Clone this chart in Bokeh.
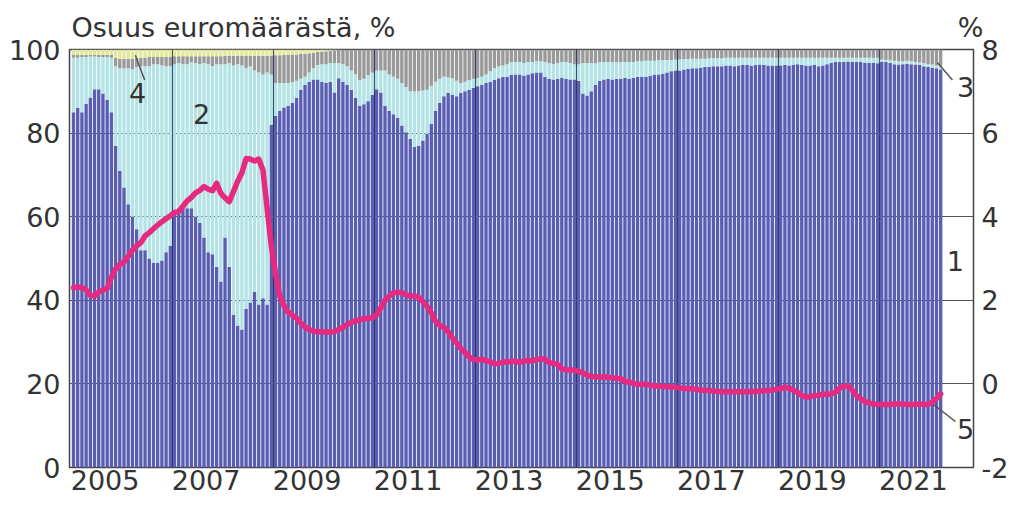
from bokeh.plotting import figure
from bokeh.models import Range1d, LinearAxis, FixedTicker, Label, ColumnDataSource
from bokeh.embed import file_html
from bokeh.resources import INLINE

# ---------------- data (monthly, Jan 2005 - Mar 2022) ----------------
start_year = 2005

# 1: share, %  (dark blue)
s1 = [85, 86, 85, 87, 88.5, 90.5, 90.5, 89.5, 88, 85, 77, 71,
      67, 63, 60, 57, 52, 52, 50, 49, 49, 49.5, 51.5, 53,
      61, 62, 62, 62, 62, 60, 58.5, 55, 51.5, 51, 48, 44.5,
      55, 48, 36.5, 34, 33, 38, 39.5, 42, 39, 40.5, 39, 82,
      84.1, 85.3, 86.1, 86.5, 87.2, 88.4, 90.4, 91.5, 92.3, 92.8, 92.8, 92.3,
      92, 92.3, 89.7, 93.1, 92.3, 91.5, 90.4, 88.4, 86.5, 86.9, 87.6, 89.2,
      90.5, 89.7, 86.5, 85.3, 84.5, 83.7, 81.8, 80.2, 78.6, 76.7, 77, 78.2,
      79.8, 82.2, 85.3, 87.2, 88.8, 89.6, 89.2, 88.8, 89.6, 90, 90.4, 90.8,
      91.2, 91.5, 92, 92.3, 92.7, 93.1, 93.5, 93.5, 93.9, 94, 94, 93.8,
      94, 94.3, 94.5, 94.5, 93.5, 93, 92.8, 93, 93.2, 93, 92.8, 92.8,
      92.5, 89.5, 89, 90, 91.5, 92.5, 92.8, 93, 92.8, 93, 93, 93.2,
      93, 93.2, 93.4, 93.5, 93.5, 93.7, 94, 94, 94.2, 94.5, 94.8, 95,
      95, 95.2, 95.4, 95.5, 95.5, 95.6, 95.8, 95.8, 96, 96, 96, 96.2,
      96.2, 96, 96.2, 96.3, 96.3, 96.2, 96.3, 96.4, 96.3, 96.2, 96.2, 96.2,
      96.2, 96.3, 96.2, 96.3, 96.5, 96.3, 96.2, 96.2, 96.3, 96, 96.2, 96.5,
      96.8, 97, 97, 97, 97.1, 97, 97, 97, 96.8, 96.8, 96.8, 96.7,
      97, 97, 96.8, 96.5, 96.4, 96.5, 96.6, 96.5, 96.4, 96.3, 96, 95.8,
      95.6, 95.5, 95.2]

# 2: share, %  (light cyan)
s2 = [13, 12, 13.2, 11.2, 9.8, 7.8, 7.7, 8.7, 10.2, 13, 19, 24.5,
      28.5, 32.5, 35.3, 38.8, 44, 44, 46, 47.5, 47.5, 46.7, 44.5, 43,
      35.5, 34.8, 34.5, 34.5, 35, 36.8, 38, 41.8, 45, 45, 48.5, 52,
      41.5, 48.7, 59.7, 62.5, 63.2, 57.5, 56.5, 53, 55.5, 53.5, 55.5, 12,
      7.9, 6.7, 5.9, 5.5, 5, 4.1, 2.6, 2, 2.2, 2.7, 3.5, 4.2,
      4.5, 4.5, 7.1, 3.7, 4.2, 4.5, 4.6, 5.6, 6.2, 6.1, 6.3, 5.3,
      4.5, 5.3, 8.5, 8.7, 9, 9.3, 10.2, 10.8, 11.4, 13.3, 13, 12,
      10.6, 9.1, 7, 5.8, 4.7, 3.7, 3.9, 3.7, 2.4, 2.3, 2.3, 2.2,
      1.9, 2, 2, 2.5, 2.8, 2.9, 2.7, 3, 3.1, 3, 3, 3,
      3, 2.7, 2.7, 2.7, 3.5, 3.8, 3.7, 3.8, 3.8, 4, 4, 3.7,
      4, 7.2, 7.8, 6.8, 5.3, 4.5, 4.2, 4, 4.2, 4, 4, 3.8,
      4, 3.8, 3.8, 3.7, 3.8, 3.6, 3.3, 3.4, 3.3, 3, 2.7, 2.6,
      2.6, 2.5, 2.3, 2.3, 2.3, 2.2, 2, 2.1, 1.9, 1.9, 1.9, 1.8,
      1.8, 2, 1.8, 1.7, 1.7, 1.8, 1.7, 1.6, 1.7, 1.8, 1.8, 1.8,
      1.8, 1.7, 1.8, 1.7, 1.5, 1.7, 1.8, 1.8, 1.7, 2, 1.8, 1.5,
      1.2, 1, 1, 1, 0.9, 1, 1, 1, 1.2, 1.2, 1.2, 1.3,
      0.6, 0.5, 0.7, 0.8, 0.8, 0.7, 0.7, 0.7, 0.6, 0.6, 0.7, 0.7,
      0.8, 0.7, 0.8]

# 3: share, %  (grey)
s3 = [0.7, 0.7, 0.5, 0.5, 0.4, 0.4, 0.5, 0.5, 0.5, 0.7, 2, 2.3,
      2.3, 2.3, 2.5, 2.2, 2, 2, 2.2, 1.7, 1.7, 2, 2.2, 2.2,
      1.9, 1.6, 1.9, 1.9, 1.4, 1.6, 1.9, 1.6, 1.9, 2.4, 1.9, 1.9,
      2, 1.8, 2.3, 2, 2.3, 3, 2.5, 3.5, 4, 4.5, 4, 4.5,
      6.6, 6.6, 6.7, 6.7, 6.6, 6.3, 5.9, 5.5, 4.6, 3.7, 3.1, 3,
      3.1, 2.9, 3, 3.1, 3.5, 4, 5, 6, 7.3, 7, 6.1, 5.5,
      5, 5, 5, 6, 6.5, 7, 8, 9, 10, 10, 10, 9.8,
      9.6, 8.7, 7.7, 7, 6.5, 6.7, 6.9, 7.5, 8, 7.7, 7.3, 7,
      6.9, 6.5, 6, 5.2, 4.5, 4, 3.8, 3.5, 3, 3, 3, 3.2,
      3, 3, 2.8, 2.8, 3, 3.2, 3.5, 3.2, 3, 3, 3.2, 3.5,
      3.5, 3.3, 3.2, 3.2, 3.2, 3, 3, 3, 3, 3, 3, 3,
      3, 3, 2.8, 2.8, 2.7, 2.7, 2.7, 2.6, 2.5, 2.5, 2.5, 2.4,
      2.4, 2.3, 2.3, 2.2, 2.2, 2.2, 2.2, 2.1, 2.1, 2.1, 2.1, 2,
      2, 2, 2, 2, 2, 2, 2, 2, 2, 2, 2, 2,
      2, 2, 2, 2, 2, 2, 2, 2, 2, 2, 2, 2,
      2, 2, 2, 2, 2, 2, 2, 2, 2, 2, 2, 2,
      2.4, 2.5, 2.5, 2.7, 2.8, 2.8, 2.7, 2.8, 3, 3.1, 3.3, 3.5,
      3.6, 3.8, 4]

# 4: share, %  (yellow)
s4 = [1.3, 1.3, 1.3, 1.3, 1.3, 1.3, 1.3, 1.3, 1.3, 1.3, 2, 2.2,
      2.2, 2.2, 2.2, 2, 2, 2, 1.8, 1.8, 1.8, 1.8, 1.8, 1.8,
      1.6, 1.6, 1.6, 1.6, 1.6, 1.6, 1.6, 1.6, 1.6, 1.6, 1.6, 1.6,
      1.5, 1.5, 1.5, 1.5, 1.5, 1.5, 1.5, 1.5, 1.5, 1.5, 1.5, 1.5,
      1.4, 1.4, 1.3, 1.3, 1.2, 1.2, 1.1, 1, 0.9, 0.8, 0.6, 0.5,
      0.4, 0.3, 0.2, 0.1, 0, 0, 0, 0, 0, 0, 0, 0] + [0] * 135

# 5: interest rate, % (right axis)
s5 = [2.30, 2.32, 2.30, 2.25, 2.12, 2.10, 2.20, 2.25, 2.28, 2.55, 2.75, 2.86,
      2.92, 3.05, 3.20, 3.30, 3.38, 3.54, 3.62, 3.71, 3.80, 3.88, 3.95, 4.02,
      4.10, 4.12, 4.25, 4.38, 4.46, 4.57, 4.63, 4.72, 4.66, 4.62, 4.80, 4.56,
      4.45, 4.36, 4.60, 4.85, 5.05, 5.39, 5.38, 5.33, 5.38, 5.12, 4.20, 3.30,
      2.65, 2.10, 1.87, 1.72, 1.64, 1.57, 1.45, 1.36, 1.30, 1.26, 1.25, 1.25,
      1.24, 1.24, 1.25, 1.30, 1.35, 1.42, 1.47, 1.51, 1.53, 1.56, 1.57, 1.58,
      1.65, 1.82, 2.00, 2.10, 2.18, 2.19, 2.18, 2.13, 2.10, 2.11, 2.07, 1.97,
      1.85, 1.70, 1.50, 1.40, 1.35, 1.25, 1.10, 0.98, 0.85, 0.75, 0.65, 0.58,
      0.58, 0.59, 0.55, 0.53, 0.48, 0.49, 0.52, 0.53, 0.54, 0.54, 0.51, 0.55,
      0.56, 0.55, 0.58, 0.60, 0.59, 0.51, 0.49, 0.47, 0.36, 0.34, 0.33, 0.33,
      0.30, 0.26, 0.21, 0.18, 0.17, 0.16, 0.17, 0.16, 0.15, 0.13, 0.13, 0.06,
      0.04, 0.01, -0.01, -0.01, -0.01, -0.03, -0.05, -0.05, -0.06, -0.07, -0.07, -0.08,
      -0.10, -0.11, -0.11, -0.12, -0.13, -0.15, -0.15, -0.16, -0.17, -0.18, -0.19, -0.19,
      -0.19, -0.19, -0.19, -0.19, -0.19, -0.18, -0.18, -0.17, -0.17, -0.15, -0.15, -0.13,
      -0.11, -0.08, -0.10, -0.15, -0.20, -0.28, -0.32, -0.30, -0.28, -0.27, -0.25, -0.25,
      -0.24, -0.20, -0.10, -0.06, -0.05, -0.15, -0.28, -0.36, -0.42, -0.46, -0.48, -0.49,
      -0.49, -0.49, -0.49, -0.48, -0.48, -0.48, -0.49, -0.50, -0.49, -0.48, -0.49, -0.49,
      -0.44, -0.35, -0.24]

year_labels = ["2005", "2007", "2009", "2011", "2013", "2015", "2017", "2019", "2021"]
left_ticks = [0, 20, 40, 60, 80, 100]
right_ticks = [-2, 0, 2, 4, 6, 8]
title_text = "Osuus euromäärästä, %"
right_unit = "%"
series_names = ["1", "2", "3", "4", "5"]

# ---------------- chart ----------------
n = len(s1)
month_idx = list(range(n))
src = ColumnDataSource(dict(x=month_idx, s1=s1, s2=s2, s3=s3, s4=s4, s5=s5))

FONT = "DejaVu Sans"
TXT = "#333333"
FS = "27px"

p = figure(width=1017, height=497,
           x_range=Range1d(-0.95, 213.8), y_range=Range1d(0, 100),
           output_backend="svg", toolbar_location=None,
           min_border_left=69, min_border_right=44, min_border_top=49, min_border_bottom=30,
           background_fill_color="white", border_fill_color="white")
p.extra_y_ranges = {"right": Range1d(-2, 8)}

colors = ["#5a5eb3", "#b4e3e6", "#9a9a9a", "#e2e89b"]
p.vbar_stack(["s1", "s2", "s3", "s4"], x="x", width=0.8, color=colors,
             line_color=None, source=src)

ln = p.line("x", "s5", source=src, y_range_name="right",
            line_color="#e62a80", line_width=5.5, line_join="round", line_cap="round")
ln.level = "annotation"

# grids (drawn under the bars -> visible through the gaps)
first_year = int(year_labels[0])
p.xgrid.ticker = FixedTicker(ticks=[(int(y) - first_year) * 12 - 0.5 for y in year_labels[1:]])
p.xgrid.grid_line_color = "#2b2f5e"
p.xgrid.grid_line_width = 1.6
p.ygrid.ticker = FixedTicker(ticks=left_ticks[1:-1])
p.ygrid.grid_line_color = "#555555"
p.ygrid.grid_line_width = 1.2

p.outline_line_color = "#444444"
p.outline_line_width = 1.5

def style_axis(ax, standoff):
    ax.axis_line_color = None
    ax.major_tick_line_color = None
    ax.minor_tick_line_color = None
    ax.major_tick_out = 0
    ax.major_tick_in = 0
    ax.major_label_standoff = standoff
    ax.major_label_text_font = FONT
    ax.major_label_text_font_size = FS
    ax.major_label_text_color = TXT

# x axis: year labels within the labelled year
xa = p.xaxis[0]
xpos = [(int(y) - first_year) * 12 + 7.5 for y in year_labels]
xa.ticker = FixedTicker(ticks=xpos)
xa.major_label_overrides = dict(zip(xpos, year_labels))
style_axis(xa, 2)

ya = p.yaxis[0]
ya.ticker = FixedTicker(ticks=left_ticks)
style_axis(ya, 9)

ra = LinearAxis(y_range_name="right", ticker=FixedTicker(ticks=right_ticks))
ra.major_label_overrides = {t: ("-" + str(-t) if t < 0 else str(t)) for t in right_ticks}
style_axis(ra, 8)
p.add_layout(ra, "right")

# header texts (left title and right-axis unit) as labels of an axis above the plot
title_pos = 38.0
unit_pos = 213.1
ta = LinearAxis(ticker=FixedTicker(ticks=[title_pos, unit_pos]))
ta.major_label_overrides = {title_pos: title_text, unit_pos: right_unit}
style_axis(ta, 7)
p.add_layout(ta, "above")

def lab(x, y, t):
    p.add_layout(Label(x=x, y=y, text=t, text_font=FONT, text_font_size=FS,
                       text_color=TXT, text_align="center", text_baseline="middle"))

lab(15.2, 89.7, series_names[3])
lab(30.4, 84.5, series_names[1])
lab(211.9, 91.1, series_names[2])
lab(209.5, 49.3, series_names[0])
lab(211.9, 9.2, series_names[4])

# leader lines
for (x0, y0, x1, y1) in [(14.7, 98.6, 16.9, 92.7), (205.2, 96.9, 208.8, 92.7), (204.0, 15.3, 209.5, 11.0)]:
    p.line([x0, x1], [y0, y1], line_color="#555555", line_width=1.5)

open("out.html", "w").write(file_html(p, INLINE))
